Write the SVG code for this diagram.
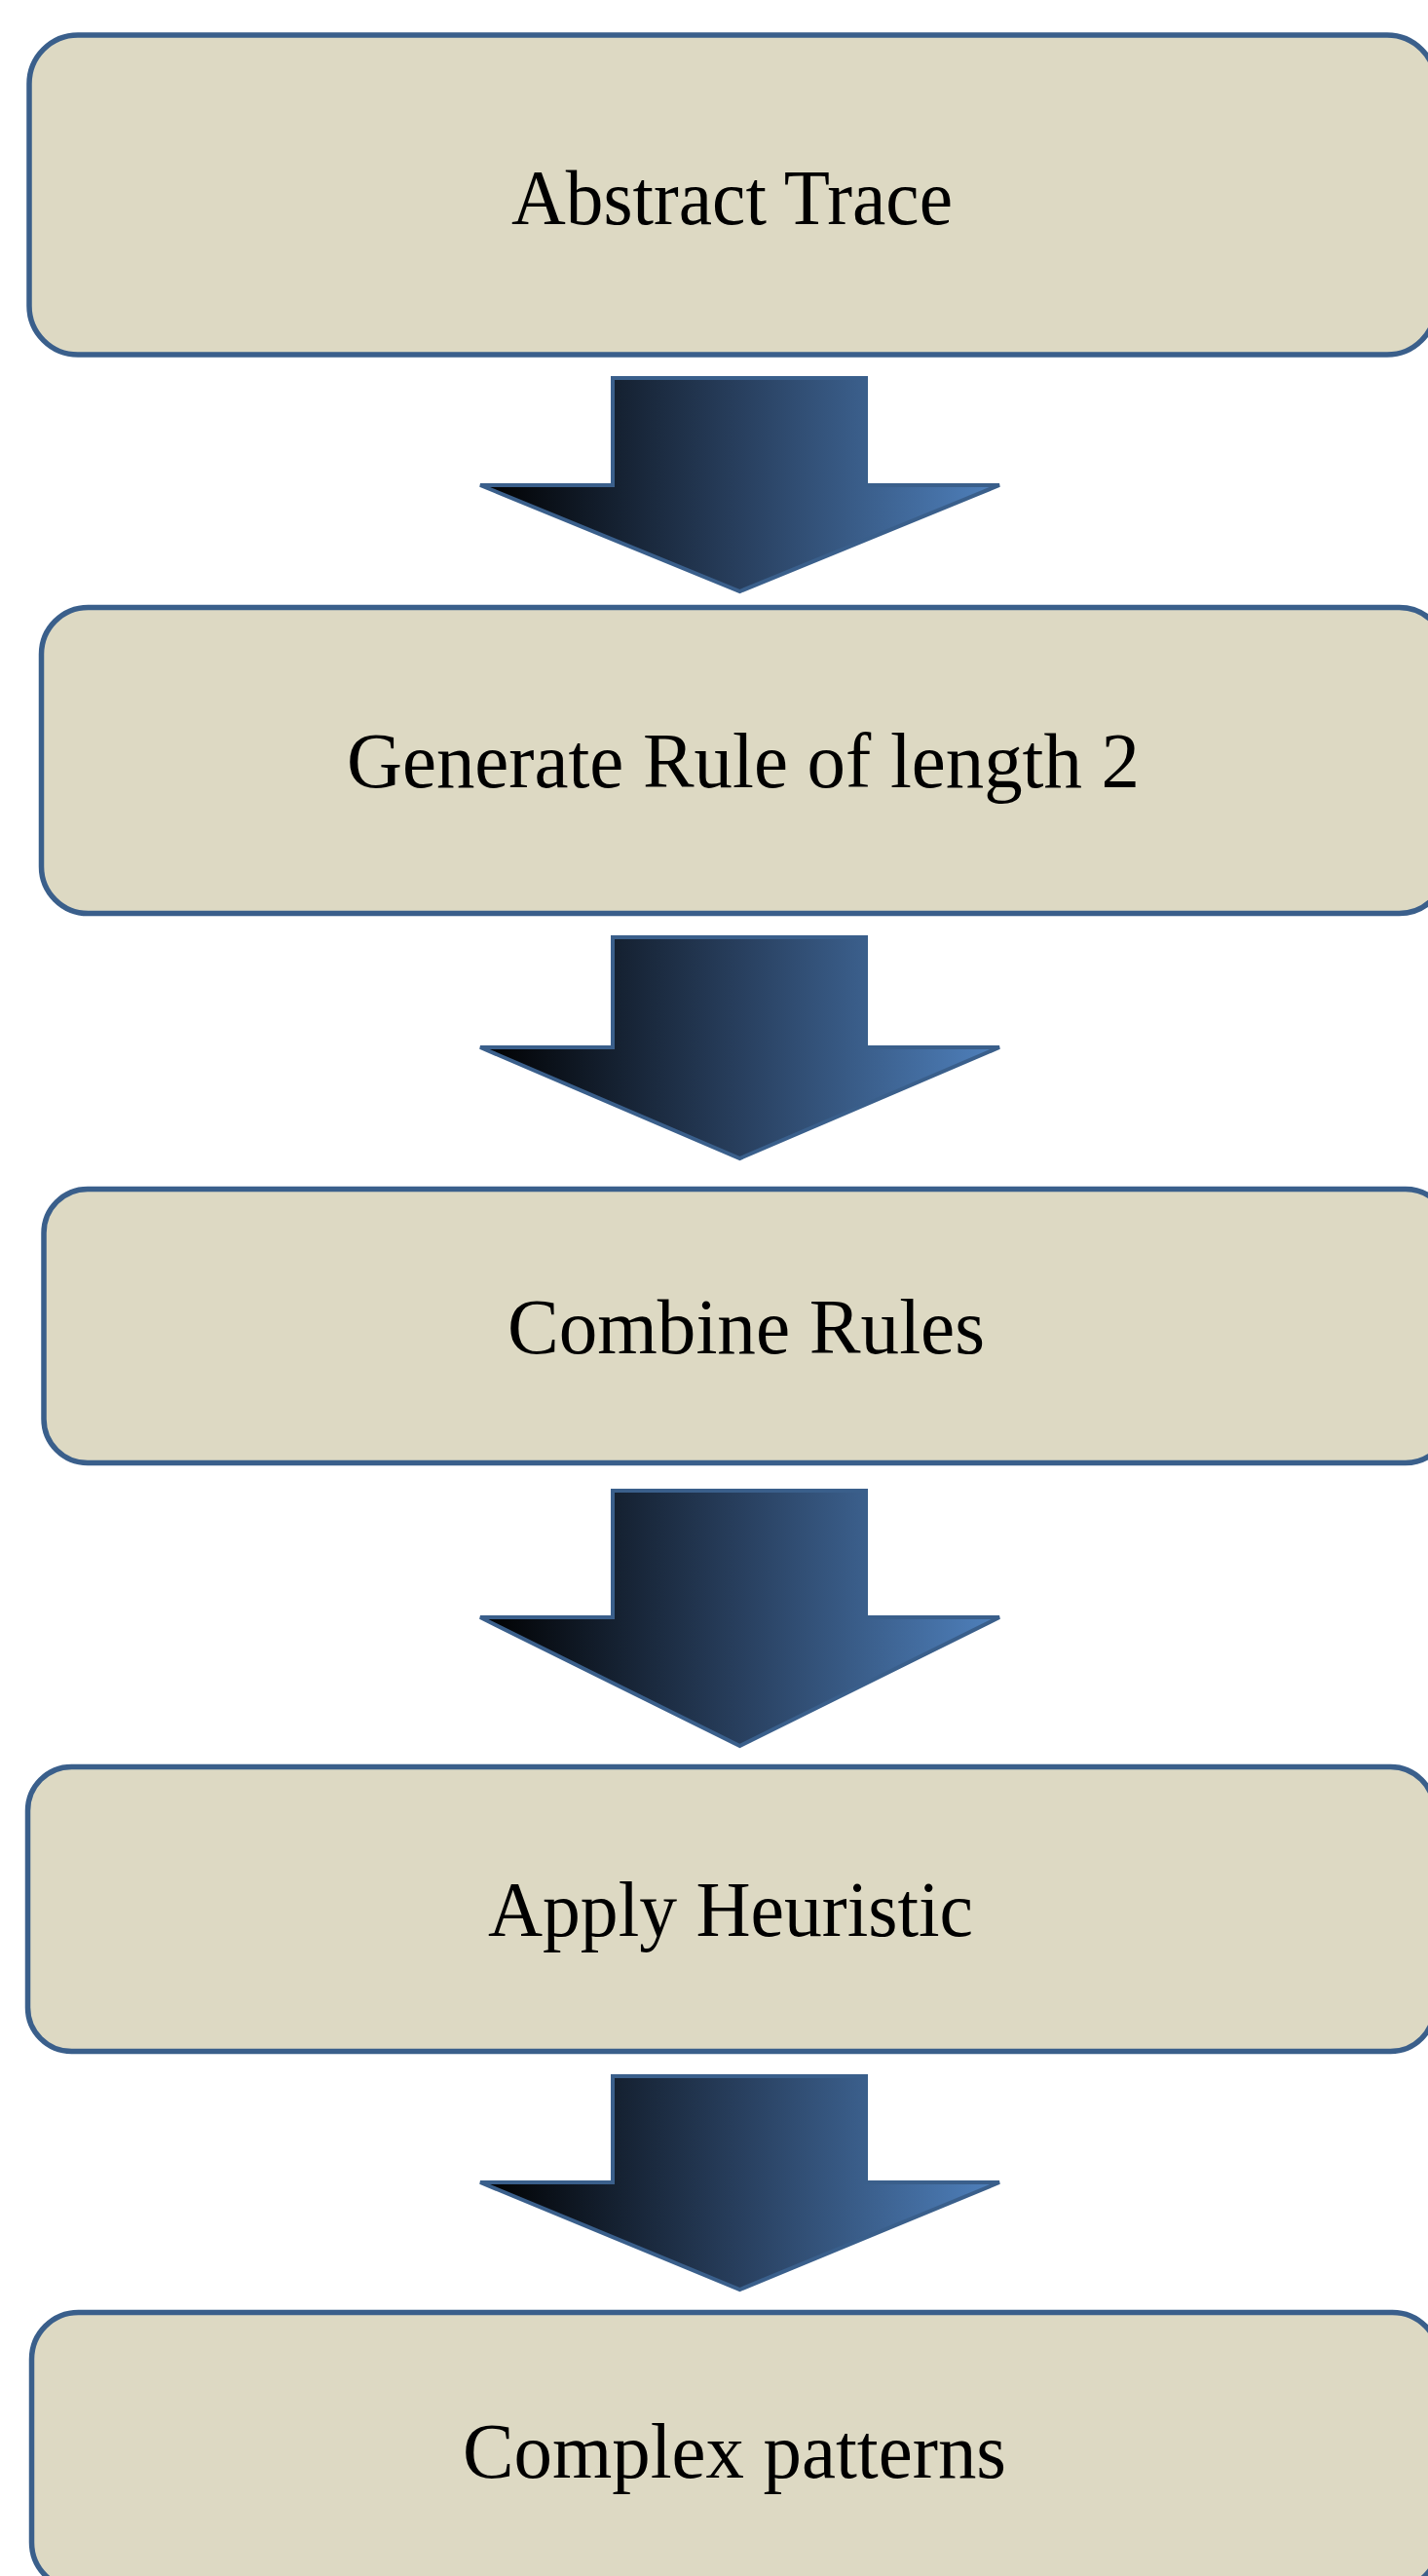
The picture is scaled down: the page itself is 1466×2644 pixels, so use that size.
<svg xmlns="http://www.w3.org/2000/svg" width="1466" height="2644" viewBox="0 0 1466 2644">
  <style>
    .box { fill: #ddd9c3; stroke: #3a5f8b; stroke-width: 5.5; }
    .lbl { font-family: "Liberation Serif", "DejaVu Serif", serif; font-size: 80px; fill: #000000; text-anchor: middle; }
    .arrow { fill: url(#arrowGrad); stroke: #3a5f8b; stroke-width: 4; stroke-linejoin: miter; }
  </style>
  <defs>
    <linearGradient id="arrowGrad" x1="0" y1="0" x2="1" y2="0">
      <stop offset="0" stop-color="#000000"/>
      <stop offset="0.5" stop-color="#283f5e"/>
      <stop offset="1" stop-color="#4f81bd"/>
    </linearGradient>
  </defs>
  <rect x="0" y="0" width="1466" height="2644" fill="#ffffff"/>

  <g id="connectors">
    <path class="arrow" d="M629,388 H889 V498 H1026 L759.5,607 L493,498 H629 Z"/>
    <path class="arrow" d="M629,962 H889 V1075 H1026 L759.5,1189 L493,1075 H629 Z"/>
    <path class="arrow" d="M629,1530 H889 V1660 H1026 L759.5,1792 L493,1660 H629 Z"/>
    <path class="arrow" d="M629,2131 H889 V2240 H1026 L759.5,2350 L493,2240 H629 Z"/>
  </g>

  <g id="node-abstract-trace">
    <rect class="box" x="30" y="36" width="1444" height="328" rx="50" ry="50"/>
    <text class="lbl" x="751.5" y="230" textLength="453" lengthAdjust="spacingAndGlyphs">Abstract Trace</text>
  </g>

  <g id="node-generate-rule">
    <rect class="box" x="42.5" y="623.5" width="1442" height="314" rx="48" ry="48"/>
    <text class="lbl" x="763" y="808" textLength="814" lengthAdjust="spacingAndGlyphs">Generate Rule of length 2</text>
  </g>

  <g id="node-combine-rules">
    <rect class="box" x="45" y="1220.5" width="1443" height="281" rx="45" ry="45"/>
    <text class="lbl" x="766" y="1389" textLength="490" lengthAdjust="spacingAndGlyphs">Combine Rules</text>
  </g>

  <g id="node-apply-heuristic">
    <rect class="box" x="28.5" y="1813.5" width="1444" height="292" rx="45" ry="45"/>
    <text class="lbl" x="750" y="1987" textLength="498" lengthAdjust="spacingAndGlyphs">Apply Heuristic</text>
  </g>

  <g id="node-complex-patterns">
    <rect class="box" x="32.5" y="2373.5" width="1445" height="284" rx="48" ry="48"/>
    <text class="lbl" x="754" y="2543" textLength="558" lengthAdjust="spacingAndGlyphs">Complex patterns</text>
  </g>
</svg>
